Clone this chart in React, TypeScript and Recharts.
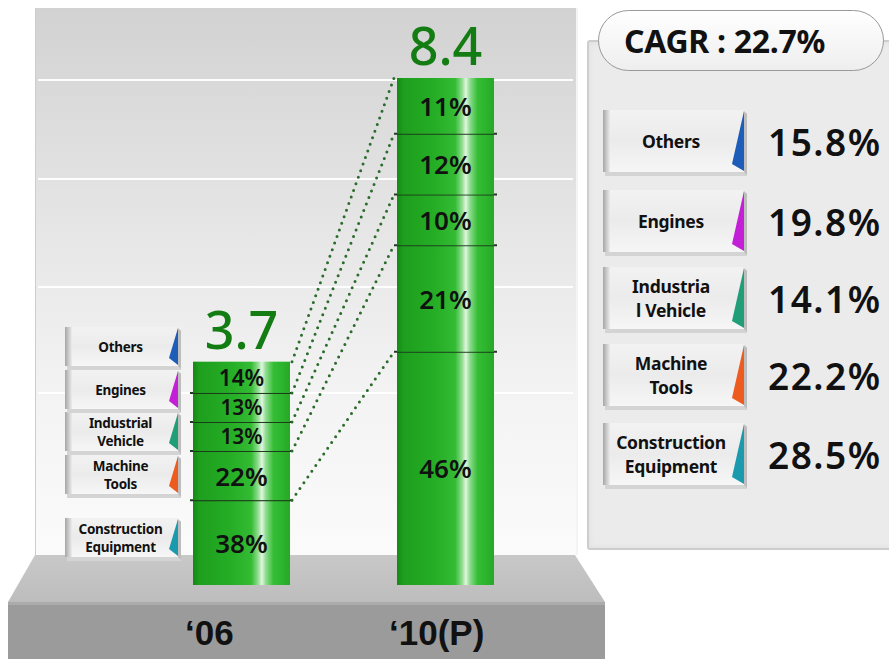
import React from 'react';
import { Bar, BarChart, LabelList, ReferenceLine, XAxis, YAxis } from 'recharts';

// segments in stacking order, bottom to top
const segmentKeys = ['construction', 'machine', 'industrial', 'engines', 'others'];
const years = ['\u201806', '\u201810(P)'];
const yearTotals = [3.7, 8.4];
const shares06 = [38, 22, 13, 13, 14];
const shares10 = [46, 21, 10, 12, 11];
const segmentCagr = [28.5, 22.2, 14.1, 19.8, 15.8];
const totalCagr = 22.7;

const tagColors = ['#1b9aae', '#ee5b1f', '#1f9e78', '#c21fd6', '#1d5cb8'];
const leftTagLines = [['Construction', 'Equipment'], ['Machine', 'Tools'], ['Industrial', 'Vehicle'], ['Engines'], ['Others']];
const rightTagLines = [['Construction', 'Equipment'], ['Machine', 'Tools'], ['Industria', 'l Vehicle'], ['Engines'], ['Others']];

const SANS = '"Noto Sans", "Open Sans", sans-serif';
const SPACER = ' ';
const shareTable = [shares06, shares10];

type Row = Record<string, string | number>;

function yearRow(i: number): Row {
  const row: Row = { year: years[i], total: yearTotals[i] };
  segmentKeys.forEach((key, k) => {
    row[key] = (yearTotals[i] * shareTable[i][k]) / 100;
    row[`${key}Share`] = shareTable[i][k];
  });
  return row;
}

// the blank middle category keeps a bar-wide gap between the two stacks
const rows: Row[] = [yearRow(0), { year: SPACER }, yearRow(1)];

const cumulative = (i: number) =>
  segmentKeys.map((_, k) => (shareTable[i].slice(0, k + 1).reduce((a, b) => a + b, 0) * yearTotals[i]) / 100);
const levels06 = cumulative(0);
const levels10 = cumulative(1);

function Segment(props: any) {
  const { x, y, width, height, isTop } = props;
  if (!height || height <= 0) return null;
  return (
    <g>
      <rect x={x} y={y} width={width} height={height} fill="url(#barGloss)" />
      {!isTop && <line x1={x - 3} x2={x + width + 3} y1={y} y2={y} stroke="#1d3b1d" strokeWidth={2} />}
    </g>
  );
}

function ShareLabel(props: any) {
  const vb = props.viewBox ?? props;
  const { value } = props;
  if (value === undefined || value === null || !vb.height) return null;
  const fontSize = Math.min(26, vb.height * 0.72);
  return (
    <text
      x={vb.x + vb.width / 2}
      y={vb.y + vb.height / 2}
      textAnchor="middle"
      dominantBaseline="central"
      fill="#111"
      style={{ fontFamily: SANS, fontSize, fontWeight: 600 }}
    >
      {value}%
    </text>
  );
}

function TotalLabel(props: any) {
  const vb = props.viewBox ?? props;
  const { value } = props;
  if (value === undefined || value === null) return null;
  return (
    <text
      x={vb.x + vb.width / 2}
      y={vb.y - 13}
      textAnchor="middle"
      fill="#137d13"
      style={{ fontFamily: SANS, fontSize: 52, fontWeight: 500 }}
    >
      {value}
    </text>
  );
}

function YearTick(props: any) {
  const { x, y, payload } = props;
  if (payload.value === SPACER) return null;
  return (
    <text
      x={x - 56}
      y={y}
      dy={52}
      textAnchor="start"
      fill="#111"
      style={{ fontFamily: '"Liberation Sans", Arial, sans-serif', fontSize: 35, fontWeight: 700 }}
    >
      {payload.value}
    </text>
  );
}

function Tag({ left, top, w, h, color, lines, fontSize, lineGap }: {
  left: number; top: number; w: number; h: number; color: string; lines: string[]; fontSize: number; lineGap: number;
}) {
  const sliver = Math.round(w * 0.08);
  const cx = (w - sliver) / 2 + 2;
  const firstY = (h - 3) / 2 - ((lines.length - 1) * lineGap) / 2;
  return (
    <svg width={w} height={h} style={{ position: 'absolute', left, top, overflow: 'visible' }}>
      <rect x={2} y={3} width={w - 2} height={h - 2} fill="#d4d4d4" />
      <rect x={0} y={0} width={w - 3} height={h - 3} fill="url(#tagBody)" />
      <rect x={0} y={0} width={7} height={h - 3} fill="url(#tagEdge)" />
      <polygon points={`${w - 3},1 ${w},4 ${w},${h} ${w - 3},${h - 3}`} fill="#bdbdbd" />
      <polygon points={`${w - 3},1 ${w - 3},${h - 4} ${w - 3 - sliver},${h - 11}`} fill={color} />
      {lines.map((line, i) => (
        <text
          key={line}
          x={cx}
          y={firstY + i * lineGap}
          textAnchor="middle"
          dominantBaseline="central"
          fill="#111"
          style={{ fontFamily: SANS, fontSize, fontWeight: 700, letterSpacing: -0.3 }}
        >
          {line}
        </text>
      ))}
    </svg>
  );
}

const leftTagTops = [518, 455, 412, 370, 327];
const rightTagTops = [423, 344, 267, 190, 110];

export default function App() {
  const last = segmentKeys.length - 1;
  return (
    <div style={{ position: 'absolute', left: 0, top: 0, width: 889, height: 659, background: '#fff', overflow: 'hidden' }}>
      {/* backdrop panel with its white rules */}
      <div
        style={{
          position: 'absolute', left: 35, top: 8, width: 540, height: 547,
          background: 'linear-gradient(#d2d2d2 0%, #dcdcdc 20%, #e8e8e8 45%, #f3f3f3 70%, #fbfbfb 100%)',
          borderLeft: '1px solid #cdcdcd', borderRight: '2px solid #f4f4f4'
        }}
      />
      {[79, 178, 286, 392].map(top => (
        <div key={top} style={{ position: 'absolute', left: 38, top, width: 535, height: 2, background: 'rgba(255,255,255,0.95)' }} />
      ))}

      <svg width={889} height={659} style={{ position: 'absolute', left: 0, top: 0 }}>
        <defs>
          <linearGradient id="floorTop" x1="0" y1="0" x2="0" y2="1">
            <stop offset="0" stopColor="#c8c8c8" />
            <stop offset="1" stopColor="#bdbdbd" />
          </linearGradient>
          <linearGradient id="tagBody" x1="0" y1="0" x2="0" y2="1">
            <stop offset="0" stopColor="#f2f2f2" />
            <stop offset="0.5" stopColor="#ebebeb" />
            <stop offset="1" stopColor="#f6f6f6" />
          </linearGradient>
          <linearGradient id="tagEdge" x1="0" y1="0" x2="1" y2="0">
            <stop offset="0" stopColor="#a6a6a6" />
            <stop offset="1" stopColor="#ececec" />
          </linearGradient>
        </defs>
        <polygon points="35,555 575,555 605,602 8,602" fill="url(#floorTop)" />
        <rect x={8} y={602} width={597} height={57} fill="#9b9b9b" />
        <rect x={8} y={602} width={597} height={3} fill="#ababab" />
      </svg>

      <div style={{ position: 'absolute', left: 0, top: 0 }}>
        <BarChart width={889} height={659} data={rows} barSize={97} margin={{ top: 78, right: 393, bottom: 44, left: 190 }}>
          <defs>
            <linearGradient id="barGloss" x1="0" y1="0" x2="1" y2="0">
              <stop offset="0" stopColor="#148a14" />
              <stop offset="0.07" stopColor="#1e9f1e" />
              <stop offset="0.4" stopColor="#26ae26" />
              <stop offset="0.6" stopColor="#33bc33" />
              <stop offset="0.67" stopColor="#8fdc8f" />
              <stop offset="0.71" stopColor="#e2f6e2" />
              <stop offset="0.75" stopColor="#8fdc8f" />
              <stop offset="0.83" stopColor="#35be35" />
              <stop offset="1" stopColor="#26a926" />
            </linearGradient>
          </defs>
          <XAxis dataKey="year" axisLine={false} tickLine={false} height={30} interval={0} tick={<YearTick />} />
          <YAxis hide width={0} domain={[0, 8.4]} allowDataOverflow />
          {levels06.map((v, k) => (
            <ReferenceLine
              key={k}
              segment={[{ x: years[0], y: v }, { x: SPACER, y: levels10[k] }]}
              position="end"
              ifOverflow="visible"
              stroke="#2b6b2b"
              strokeWidth={3}
              strokeDasharray="0 7"
              strokeLinecap="round"
            />
          ))}
          {segmentKeys.map((key, k) => (
            <Bar
              key={key}
              dataKey={key}
              stackId="share"
              isAnimationActive={false}
              shape={(p: any) => <Segment {...p} isTop={k === last} />}
            >
              <LabelList dataKey={`${key}Share`} content={ShareLabel} />
              {k === last && <LabelList dataKey="total" content={TotalLabel} />}
            </Bar>
          ))}
        </BarChart>
      </div>

      {segmentKeys.map((key, k) => (
        <Tag key={key} left={65} top={leftTagTops[k]} w={116} h={42} color={tagColors[k]} lines={leftTagLines[k]} fontSize={13.5} lineGap={18} />
      ))}

      {/* growth-rate side panel */}
      <div
        style={{
          position: 'absolute', left: 587, top: 40, width: 320, height: 506,
          background: '#ebebeb', border: '2px solid #cdcdcd', borderRadius: 3,
          boxShadow: 'inset 0 0 6px rgba(0,0,0,0.06)'
        }}
      />
      <div
        style={{
          position: 'absolute', left: 598, top: 10, width: 286, height: 61, boxSizing: 'border-box',
          borderRadius: 31, border: '1.5px solid #999', background: 'linear-gradient(#ffffff, #eeeeee)',
          display: 'flex', alignItems: 'center', paddingLeft: 25,
          fontFamily: SANS, fontSize: 32, fontWeight: 700, color: '#111', letterSpacing: -0.3
        }}
      >
        CAGR : <span style={{ marginLeft: 8 }}>{totalCagr}%</span>
      </div>
      {segmentKeys.map((key, k) => (
        <React.Fragment key={key}>
          <Tag left={603} top={rightTagTops[k]} w={144} h={65} color={tagColors[k]} lines={rightTagLines[k]} fontSize={17.5} lineGap={24} />
          <div
            style={{
              position: 'absolute', left: 768, top: rightTagTops[k] + 12, height: 40, lineHeight: '40px',
              fontFamily: SANS, fontSize: 37, fontWeight: 600, color: '#111', letterSpacing: 1.5
            }}
          >
            {segmentCagr[k]}%
          </div>
        </React.Fragment>
      ))}
    </div>
  );
}
